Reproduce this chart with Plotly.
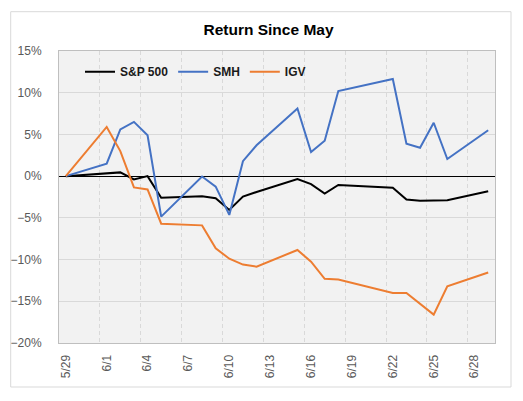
import pandas as pd
import plotly.graph_objects as go

# ---- data (percent return since 5/29) ----
dates = ["2020-05-29", "2020-06-01", "2020-06-02", "2020-06-03", "2020-06-04",
         "2020-06-05", "2020-06-08", "2020-06-09", "2020-06-10", "2020-06-11",
         "2020-06-12", "2020-06-15", "2020-06-16", "2020-06-17", "2020-06-18",
         "2020-06-22", "2020-06-23", "2020-06-24", "2020-06-25", "2020-06-26",
         "2020-06-29"]
sp500 = [0.0, 0.3, 0.45, -0.4, 0.0, -2.6, -2.4, -2.65, -4.05, -2.45,
         -1.9, -0.35, -0.95, -2.1, -1.05, -1.4, -2.8, -2.95, -2.95, -2.9,
         -1.8]
smh = [0.0, 1.5, 5.6, 6.5, 4.9, -4.85, -0.05, -1.25, -4.65, 1.8,
       3.7, 8.1, 2.9, 4.25, 10.2, 11.65, 3.9, 3.4, 6.4, 2.05,
       5.5]
igv = [0.0, 5.9, 3.0, -1.35, -1.6, -5.7, -5.9, -8.65, -9.9, -10.6,
       -10.85, -8.85, -10.25, -12.3, -12.4, -14.0, -14.0, -15.3, -16.6, -13.2,
       -11.55]
tick_dates = ["2020-05-29", "2020-06-01", "2020-06-04", "2020-06-07", "2020-06-10",
              "2020-06-13", "2020-06-16", "2020-06-19", "2020-06-22", "2020-06-25",
              "2020-06-28"]
tick_labels = ["5/29", "6/1", "6/4", "6/7", "6/10", "6/13", "6/16", "6/19",
               "6/22", "6/25", "6/28"]
series_names = ["S&P 500", "SMH", "IGV"]
series_colors = ["#000000", "#4472C4", "#ED7D31"]

# points sit in the middle of each day (Excel date axis)
half = pd.Timedelta(hours=12)
x = pd.to_datetime(dates) + half
tickvals = pd.to_datetime(tick_dates) + half
gridvals = pd.to_datetime(tick_dates[1:])

fig = go.Figure()
for name, vals, col in zip(series_names, [sp500, smh, igv], series_colors):
    fig.add_trace(go.Scatter(x=x, y=vals, name=name, mode="lines",
                             line=dict(color=col, width=2)))

L, R, T, B = 59, 28, 51, 58
W, H = 523 - L - R, 401 - T - B

fig.update_layout(
    width=523, height=401,
    margin=dict(l=L, r=R, t=T, b=B),
    paper_bgcolor="white", plot_bgcolor="#f2f2f2",
    font=dict(family="Liberation Sans, Arial, sans-serif", size=12, color="#595959"),
    title=dict(text="<b>Return Since May</b>", x=268.5 / 523, xanchor="center",
               y=1 - 30 / 401, yanchor="middle",
               font=dict(size=15.5, color="#000000")),
    showlegend=True,
    legend=dict(orientation="h", x=(80 - L) / W, xanchor="left",
                y=(343 - 71.7) / H, yanchor="middle",
                bgcolor="rgba(0,0,0,0)",
                font=dict(size=12, color="#1a1a1a", weight="bold"),
                itemwidth=30, tracegroupgap=0),
    shapes=[dict(type="rect", xref="paper", yref="paper",
                 x0=(10.7 - L) / W, x1=(511 - L) / W,
                 y0=(343 - 387) / H, y1=(343 - 11.7) / H,
                 line=dict(color="#d9d9d9", width=1), fillcolor="rgba(0,0,0,0)",
                 layer="below")],
)

fig.update_xaxes(
    type="date", range=["2020-05-29", "2020-06-30"],
    tickmode="array", tickvals=tickvals, ticktext=tick_labels,
    tickangle=-90, ticks="", showgrid=False, zeroline=False,
    ticklabelstandoff=6,
    showline=True, mirror=True, linecolor="#bfbfbf", linewidth=1,
    minor=dict(tickmode="array", tickvals=gridvals, showgrid=True,
               griddash="4px,3px", gridcolor="#d9d9d9", gridwidth=1, ticks=""),
)
fig.update_yaxes(
    range=[-20, 15], dtick=5, tick0=0, ticksuffix="%",
    showgrid=True, gridcolor="#d9d9d9", gridwidth=1,
    zeroline=True, zerolinecolor="#000000", zerolinewidth=1,
    ticks="", ticklabelstandoff=14,
    showline=True, mirror=True, linecolor="#bfbfbf", linewidth=1,
)

fig.write_html("out.html")
